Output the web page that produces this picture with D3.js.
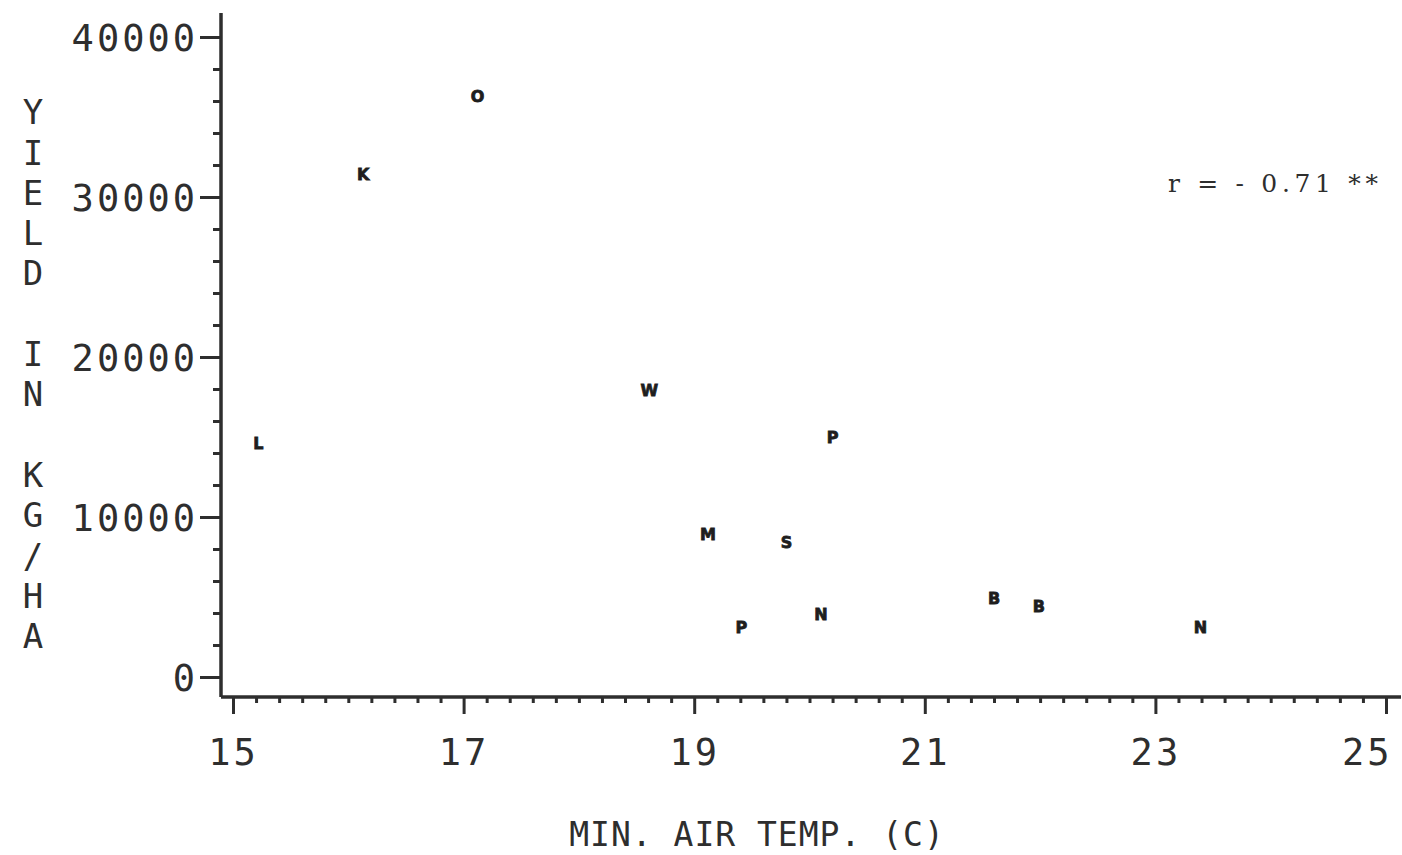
<!DOCTYPE html>
<html>
<head>
<meta charset="utf-8">
<script src="https://cdn.jsdelivr.net/npm/d3@7"></script>
<style>
  body { margin: 0; background: #fff; }
  svg { display: block; }
</style>
</head>
<body>
<svg id="chart"></svg>
<script>
// site codes, temperature (C) and yield (kg/ha)
const sites = ["L", "K", "O", "W", "P", "M", "S", "N", "P", "B", "B", "N"]
const minTemp = [15.22, 16.13, 17.12, 18.61, 20.20, 19.12, 19.80, 20.10, 19.41, 21.60, 21.99, 23.39]
const yieldKg = [14600, 31400, 36300, 17900, 15000, 8900, 8400, 3900, 3100, 4900, 4400, 3100]

const xTicks = [15, 17, 19, 21, 23, 25]
const yTicks = [0, 10000, 20000, 30000, 40000]
const yTitle = "YIELD IN KG/HA"
const xTitle = "MIN. AIR TEMP. (C)"
const note = "r = - 0.71 **"

const w = 1402
const h = 855
const ink = "#2e2e2e"

const svg = d3.select("#chart").attr("width", w).attr("height", h)

const x = d3.scaleLinear().domain([15, 25]).range([233, 1386])
const y = d3.scaleLinear().domain([0, 40000]).range([677, 37])

const axisX = 221
const axisY = 697

// minor ticks every 0.2 on x, every 2000 on y
const xMinor = d3.range(15, 25.01, 0.2).map(d => +d.toFixed(1)).filter(d => !xTicks.includes(d))
const yMinor = d3.range(0, 40001, 2000).filter(d => !yTicks.includes(d))

// y axis
const gy = svg.append("g").attr("transform", `translate(${axisX},0)`)
gy.append("g")
  .call(d3.axisLeft(y).tickValues(yMinor).tickSize(8).tickFormat(""))
gy.append("g")
  .call(d3.axisLeft(y).tickValues(yTicks).tickSize(21).tickPadding(2).tickFormat(d => d))
gy.selectAll(".domain").remove()
gy.selectAll("line").attr("stroke", ink).attr("stroke-width", 3)
gy.selectAll("text")
  .attr("fill", ink)
  .style("font-family", "'DejaVu Sans Mono'")
  .style("font-size", "37px")
  .style("letter-spacing", "3px")
  .attr("dy", "0.36em")

// x axis
const gx = svg.append("g").attr("transform", `translate(0,${axisY})`)
gx.append("g")
  .call(d3.axisBottom(x).tickValues(xMinor).tickSize(6).tickFormat(""))
gx.append("g")
  .call(d3.axisBottom(x).tickValues(xTicks).tickSize(17).tickPadding(25).tickFormat(d => d))
gx.selectAll(".domain").remove()
gx.selectAll("line").attr("stroke", ink).attr("stroke-width", 3)
gx.selectAll("text")
  .attr("fill", ink)
  .style("font-family", "'DejaVu Sans Mono'")
  .style("font-size", "37px")
  .style("letter-spacing", "3px")
// last label sits inside the frame
gx.selectAll(".tick text").filter(d => d === 25)
  .attr("text-anchor", "end").attr("x", 6)

// axis lines
svg.append("line")
  .attr("x1", axisX).attr("x2", axisX).attr("y1", 13).attr("y2", axisY)
  .attr("stroke", ink).attr("stroke-width", 3.5)
svg.append("line")
  .attr("x1", axisX).attr("x2", 1401).attr("y1", axisY).attr("y2", axisY)
  .attr("stroke", ink).attr("stroke-width", 3.5)

// stacked y title
svg.append("g").selectAll("text")
  .data(yTitle.split(""))
  .join("text")
  .attr("x", 33)
  .attr("y", (d, i) => 112 + i * 40.3)
  .attr("dy", "0.36em")
  .attr("text-anchor", "middle")
  .attr("fill", ink)
  .style("font-family", "'DejaVu Sans Mono'")
  .style("font-size", "34px")
  .text(d => d)

// x title
svg.append("text")
  .attr("x", 757)
  .attr("y", 846)
  .attr("text-anchor", "middle")
  .attr("fill", ink)
  .style("font-family", "'DejaVu Sans Mono'")
  .style("font-size", "33px")
  .style("letter-spacing", "1px")
  .text(xTitle)

// correlation note
svg.append("text")
  .attr("x", 1168)
  .attr("y", 192)
  .attr("textLength", 210)
  .attr("lengthAdjust", "spacing")
  .attr("fill", ink)
  .style("font-family", "'DejaVu Serif'")
  .style("font-size", "25px")
  .style("white-space", "pre")
  .text(note)

// points drawn as letters
svg.append("g").selectAll("text")
  .data(sites)
  .join("text")
  .attr("x", (d, i) => x(minTemp[i]))
  .attr("y", (d, i) => y(yieldKg[i]))
  .attr("dy", "0.36em")
  .attr("text-anchor", "middle")
  .attr("fill", "#1e1e1e")
  .attr("stroke", "#1e1e1e")
  .attr("stroke-width", 0.8)
  .style("font-family", "'DejaVu Sans'")
  .style("font-weight", "bold")
  .style("font-size", "16px")
  .text(d => d)
</script>
</body>
</html>
